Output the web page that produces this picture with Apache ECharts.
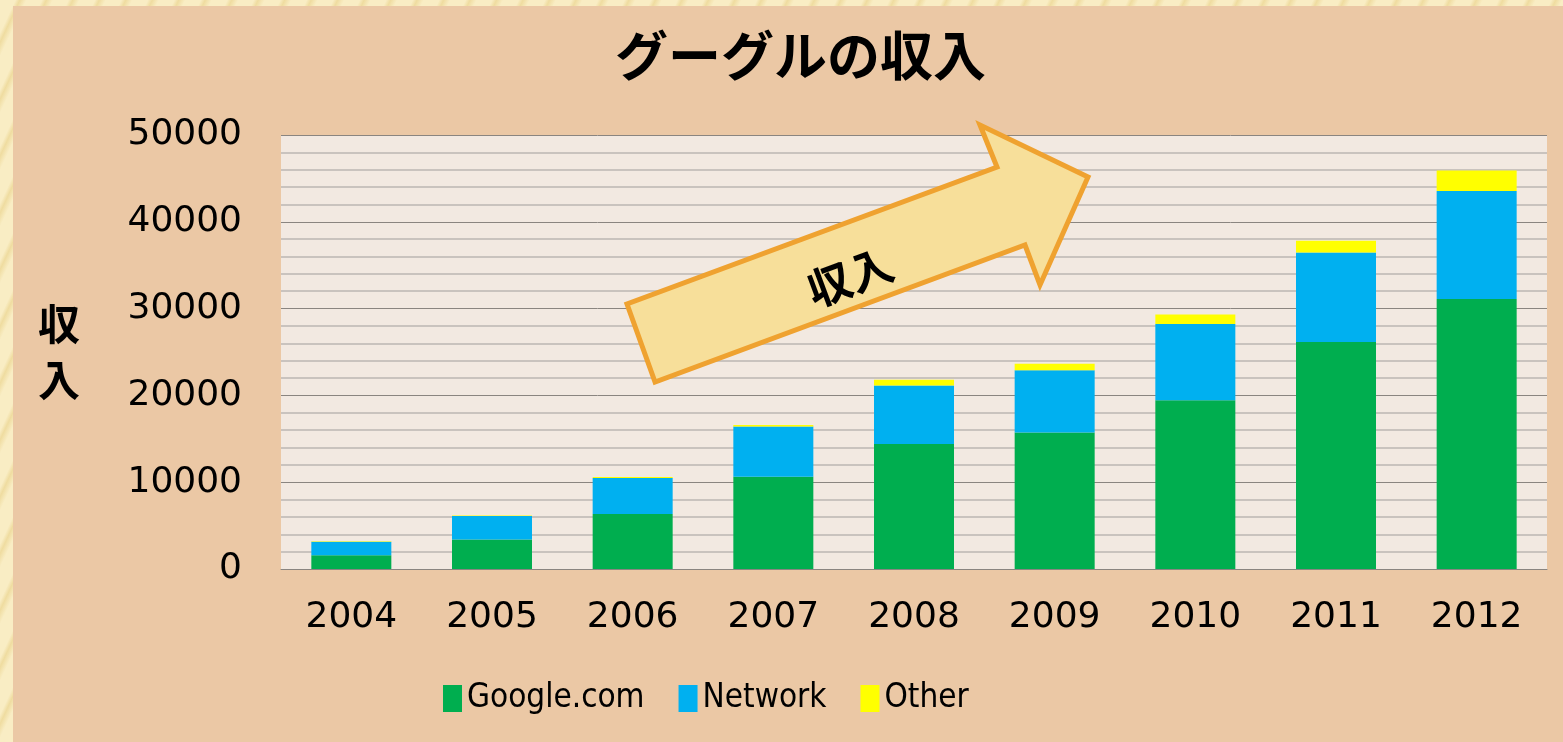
<!DOCTYPE html>
<html>
<head>
<meta charset="utf-8">
<script src="https://cdn.jsdelivr.net/npm/echarts@6/dist/echarts.min.js"></script>
<style>
html,body{margin:0;padding:0;width:1563px;height:742px;overflow:hidden;
background:repeating-linear-gradient(115deg,#F9EDC4 0px,#F9EDC4 14px,#EFDCA0 18px,#F9EDC4 24px);}
#chart{position:absolute;left:13px;top:6px;width:1550px;height:736px;}
</style>
</head>
<body>
<div id="chart"></div>
<script>
const categories = ['2004','2005','2006','2007','2008','2009','2010','2011','2012'];
const googleCom = [1590, 3400, 6330, 10620, 14410, 15720, 19440, 26150, 31100];
const network   = [1550, 2700, 4160, 5790, 6720, 7170, 8790, 10300, 12450];
const other     = [50, 70, 110, 180, 670, 760, 1090, 1380, 2350];
const seriesNames = ['Google.com', 'Network', 'Other'];
const yTicks = { min: 0, max: 50000, interval: 10000 };

const chart = echarts.init(document.getElementById('chart'));
const tickFont = { fontFamily: 'DejaVu Sans', fontSize: 36, color: '#000' };

chart.setOption({
  backgroundColor: '#EBC8A5',
  animation: false,
  color: ['#00AE4F', '#00B0F0', '#FFFF00'],
  title: {
    text: 'グーグルの収入',
    left: 597,
    top: 18,
    textStyle: { fontFamily: 'Noto Sans CJK JP', fontWeight: 'bold', fontSize: 53, color: '#000' }
  },
  legend: {
    left: 425,
    top: 671,
    itemWidth: 19,
    itemHeight: 27,
    itemGap: 34,
    icon: 'rect',
    textStyle: { fontFamily: 'DejaVu Sans Condensed, Liberation Sans', fontSize: 33, color: '#000', padding: [0, 0, 0, 0] },
    data: seriesNames
  },
  grid: {
    left: 268, top: 129, width: 1266, height: 434,
    show: true, backgroundColor: '#F2E9E1', borderWidth: 0
  },
  xAxis: {
    type: 'category',
    data: categories,
    axisLine: { show: true, lineStyle: { color: '#8A8580', width: 1 } },
    axisTick: { show: false },
    axisLabel: Object.assign({ margin: 31 }, tickFont)
  },
  yAxis: {
    type: 'value',
    min: yTicks.min, max: yTicks.max, interval: yTicks.interval,
    name: '収\n入',
    nameLocation: 'middle',
    nameRotate: 0,
    nameGap: 201,
    nameTextStyle: { fontFamily: 'Noto Sans CJK JP', fontWeight: 'bold', fontSize: 42, lineHeight: 56, color: '#000' },
    axisLine: { show: false },
    axisTick: { show: false },
    axisLabel: Object.assign({ margin: 39, formatter: function (v) { return String(v); } }, tickFont),
    splitLine: { show: true, lineStyle: { color: '#8A8580', width: 1 } },
    minorTick: { show: false, splitNumber: 5 },
    minorSplitLine: { show: true, lineStyle: { color: '#BCB7B3', width: 1.5 } }
  },
  series: [
    { name: seriesNames[0], type: 'bar', stack: 'rev', data: googleCom, barWidth: 80 },
    { name: seriesNames[1], type: 'bar', stack: 'rev', data: network, barWidth: 80 },
    { name: seriesNames[2], type: 'bar', stack: 'rev', data: other, barWidth: 80 }
  ],
  graphic: [
    {
      type: 'polygon',
      z: 100,
      shape: { points: [[642,376],[614,298],[984,161],[967,119],[1075,171],[1027,279],[1012,239]] },
      style: { fill: '#F7DF9A', stroke: '#EFA230', lineWidth: 5, lineJoin: 'miter' }
    },
    {
      type: 'text',
      z: 101,
      x: 837, y: 271,
      rotation: 0.356,
      style: {
        text: '収入',
        fontFamily: 'Noto Sans CJK JP', fontWeight: 'bold', fontSize: 44, fill: '#000',
        align: 'center', verticalAlign: 'middle'
      }
    }
  ]
});
</script>
</body>
</html>
